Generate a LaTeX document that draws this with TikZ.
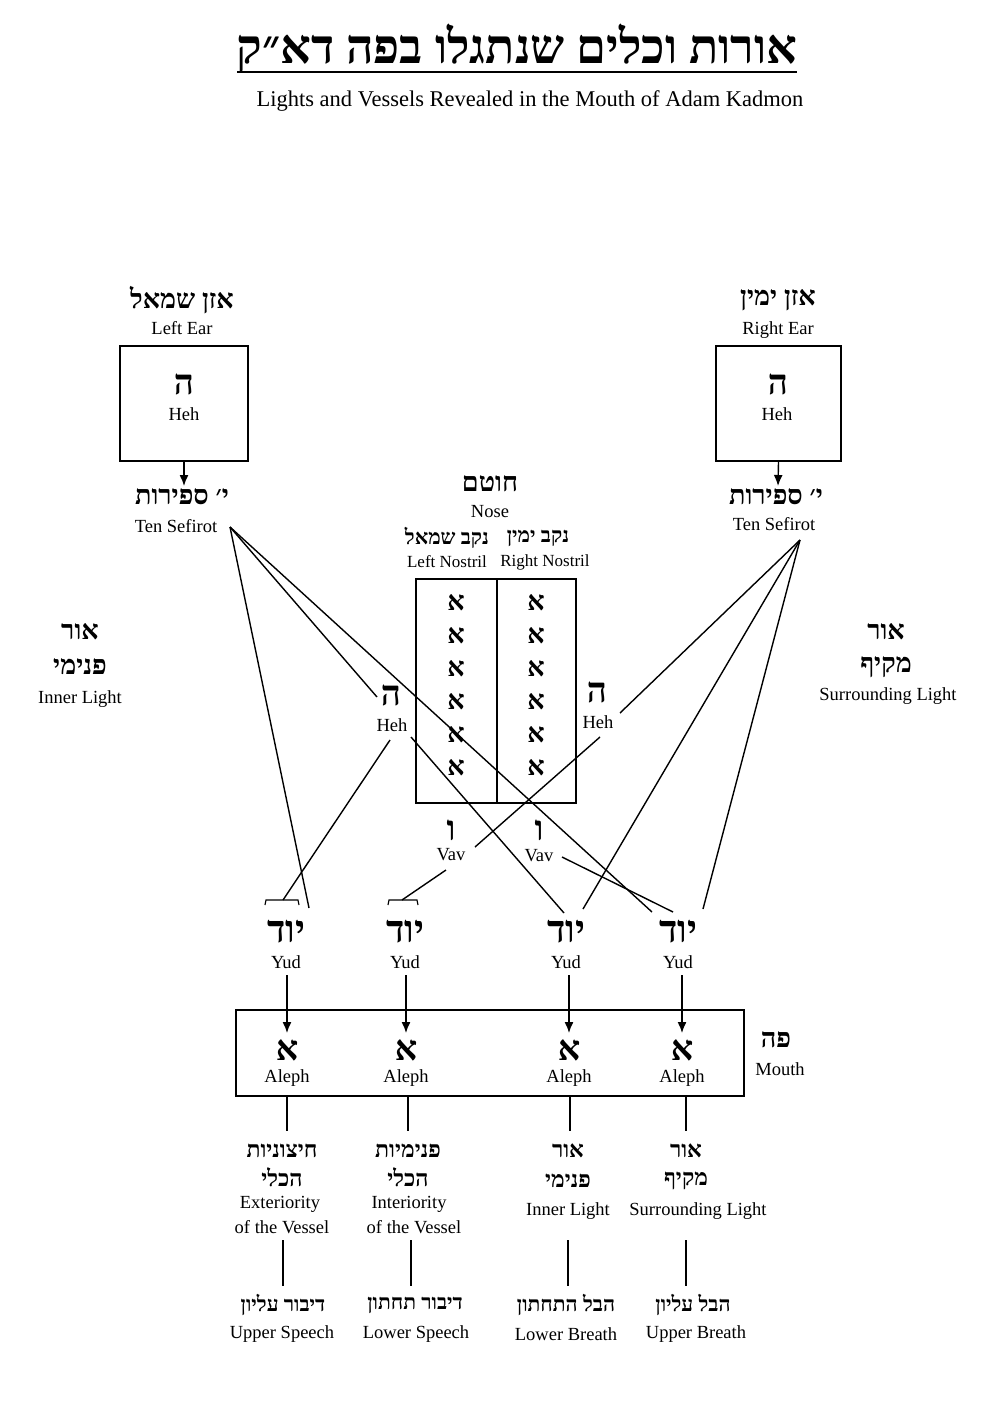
\documentclass[tikz,border=0pt]{standalone}
\usepackage{fontspec}
\usetikzlibrary{arrows.meta}
\setmainfont{Liberation Serif}
\newfontfamily\hebfont[Script=Hebrew]{Liberation Serif}
\TeXXeTstate=1
\newcommand{\heb}[1]{{\hebfont\bfseries\beginR #1\endR}}
\begin{document}
\begin{tikzpicture}[x=1pt,y=-1pt,
  en/.style={font=\fontsize{18.5}{19}\selectfont,inner sep=0pt},
  hb/.style={font=\fontsize{27}{28}\selectfont,inner sep=0pt},
  hl/.style={font=\fontsize{35}{36}\selectfont,inner sep=0pt},
  ln/.style={line width=1.4pt},
  ar/.style={line width=1.4pt,-{Latex[length=11pt,width=9pt]}},
  bx/.style={draw,line width=1.8pt}]
\useasboundingbox (0,0) rectangle (980,1402);
% title
\node[font=\fontsize{48}{48}\selectfont,inner sep=0pt] (title) at (517,48) {\heb{אורות וכלים שנתגלו בפה דא״ק}};
\draw[line width=2.2pt] (237,72) -- (797,72);
\node[font=\fontsize{22.5}{23}\selectfont,inner sep=0pt] (sub) at (530,101) {Lights and Vessels Revealed in the Mouth of Adam Kadmon};
% ears
\node[hb] (lh) at (182,300) {\heb{אזן שמאל}};
\node[en] (le) at (182,328) {Left Ear};
\node[bx,minimum width=128pt,minimum height=115pt,inner sep=0pt] (lbox) at (184,403.5) {};
\node[hl] (lheh) at (184,384) {\heb{ה}};
\node[en] at (184,414) {Heh};
\node[hb] (ls) at (182,497) {\heb{י׳ ספירות}};
\node[en] (lst) at (176,526) {Ten Sefirot};
\draw[ar] (lbox.south) -- (184,486);
\node[hb] (rh) at (778,300) {\heb{אזן ימין}};
\node[en] (re) at (778,330) {Right Ear};
\node[bx,minimum width=125pt,minimum height=115pt,inner sep=0pt] (rbox) at (778.5,403.5) {};
\node[hl] (rheh) at (778,384) {\heb{ה}};
\node[en] at (777,414) {Heh};
\node[hb] (rs) at (776,497) {\heb{י׳ ספירות}};
\node[en] (rst) at (774,524) {Ten Sefirot};
\draw[ar] (rbox.south) -- (778,486);
% nose
\node[hb] (nose) at (490,484) {\heb{חוטם}};
\node[en] at (490,512) {Nose};
\node[font=\fontsize{21}{21}\selectfont,inner sep=0pt] at (447,538) {\heb{נקב שמאל}};
\node[font=\fontsize{21}{21}\selectfont,inner sep=0pt] at (538,538) {\heb{נקב ימין}};
\node[en,font=\fontsize{17}{17}\selectfont] at (447,562) {Left Nostril};
\node[en,font=\fontsize{17}{17}\selectfont] at (545,562) {Right Nostril};
\node[bx,minimum width=160pt,minimum height=224pt,inner sep=0pt] (nbox) at (496,691) {};
\draw[line width=1.8pt] (497,579) -- (497,803);
\foreach \y [count=\i] in {603,636,669,702,735,768}{
  \node[hb] (la\i) at (456,\y) {\heb{א}};
  \node[hb] (ra\i) at (536,\y) {\heb{א}};}
% side labels
\node[hb] at (80,632) {\heb{אור}};
\node[hb] at (80,667) {\heb{פנימי}};
\node[en] at (80,699) {Inner Light};
\node[hb] at (886,632) {\heb{אור}};
\node[hb] at (886,667) {\heb{מקיף}};
\node[en] at (888,696) {Surrounding Light};
% heh, vav
\node[hl] (hehL) at (391,695) {\heb{ה}};
\node[en] at (392,725) {Heh};
\node[hl] (hehR) at (597,692) {\heb{ה}};
\node[en] at (598,722) {Heh};
\node[hl] (vavL) at (451,830) {\heb{ו}};
\node[en] at (451,855) {Vav};
\node[hl] (vavR) at (539,830) {\heb{ו}};
\node[en] at (539,856) {Vav};
% yuds
\foreach \x [count=\i] in {286,405,566,678}{
  \node[font=\fontsize{38}{38}\selectfont,inner sep=0pt] (yud\i) at (\x,932) {\heb{יוד}};
  \node[en] (yt\i) at (\x,962) {Yud};}
\draw[line width=1.1pt] (265,905) -- (266,900) -- (298,900) -- (299,905);
\draw[line width=1.1pt] (388,905) -- (389,900) -- (417,900) -- (418,905);
% crossing lines
\coordinate (LS) at (230,527);
\coordinate (RS) at (800,540);
\draw[ln] (LS) -- (309,908);
\draw[ln] (LS) -- (377,697);
\draw[ln] (LS) -- (652,912);
\draw[ln] (390,740) -- (283,900);
\draw[ln] (411,737) -- (564,913);
\draw[ln] (RS) -- (620,713);
\draw[ln] (RS) -- (583,909);
\draw[ln] (RS) -- (703,909);
\draw[ln] (600,737) -- (475,847);
\draw[ln] (446,870) -- (402,900);
\draw[ln] (562,857) -- (673,912);
% mouth
\node[bx,minimum width=508pt,minimum height=86pt,inner sep=0pt] (mouth) at (490,1053) {};
\node[hb] at (776,1040) {\heb{פה}};
\node[en] at (780,1069) {Mouth};
\foreach \x/\xb [count=\i] in {287/287,406/408,569/570,682/686}{
  \node[hl] (al\i) at (\x,1050) {\heb{א}};
  \node[en] at (\x,1078) {Aleph};
  \draw[ar] (\x,975) -- (\x,1033);
  \draw[ln] (\xb,1096) -- (\xb,1131);}
% bottom labels
\node[hb,font=\fontsize{23}{23}\selectfont] at (282,1151) {\heb{חיצוניות}};
\node[hb,font=\fontsize{23}{23}\selectfont] at (282,1177) {\heb{הכלי}};
\node[en] at (280,1204) {Exteriority};
\node[en] at (282,1227) {of the Vessel};
\node[hb,font=\fontsize{23}{23}\selectfont] at (408,1151) {\heb{פנימיות}};
\node[hb,font=\fontsize{23}{23}\selectfont] at (408,1177) {\heb{הכלי}};
\node[en] at (409,1204) {Interiority};
\node[en] at (414,1227) {of the Vessel};
\node[hb,font=\fontsize{23}{23}\selectfont] at (568,1151) {\heb{אור}};
\node[hb,font=\fontsize{23}{23}\selectfont] at (568,1181) {\heb{פנימי}};
\node[en] at (568,1211) {Inner Light};
\node[hb,font=\fontsize{23}{23}\selectfont] at (686,1151) {\heb{אור}};
\node[hb,font=\fontsize{23}{23}\selectfont] at (686,1181) {\heb{מקיף}};
\node[en] at (698,1211) {Surrounding Light};
\foreach \x in {283,411,568,686} \draw[ln] (\x,1240) -- (\x,1286);
\node[font=\fontsize{21}{21}\selectfont,inner sep=0pt] at (283,1305) {\heb{דיבור עליון}};
\node[en] at (282,1334) {Upper Speech};
\node[font=\fontsize{21}{21}\selectfont,inner sep=0pt] at (415,1305) {\heb{דיבור תחתון}};
\node[en] at (416,1334) {Lower Speech};
\node[font=\fontsize{21}{21}\selectfont,inner sep=0pt] at (566,1305) {\heb{הבל התחתון}};
\node[en] at (566,1334) {Lower Breath};
\node[font=\fontsize{21}{21}\selectfont,inner sep=0pt] at (693,1305) {\heb{הבל עליון}};
\node[en] at (696,1334) {Upper Breath};
\end{tikzpicture}
\end{document}
